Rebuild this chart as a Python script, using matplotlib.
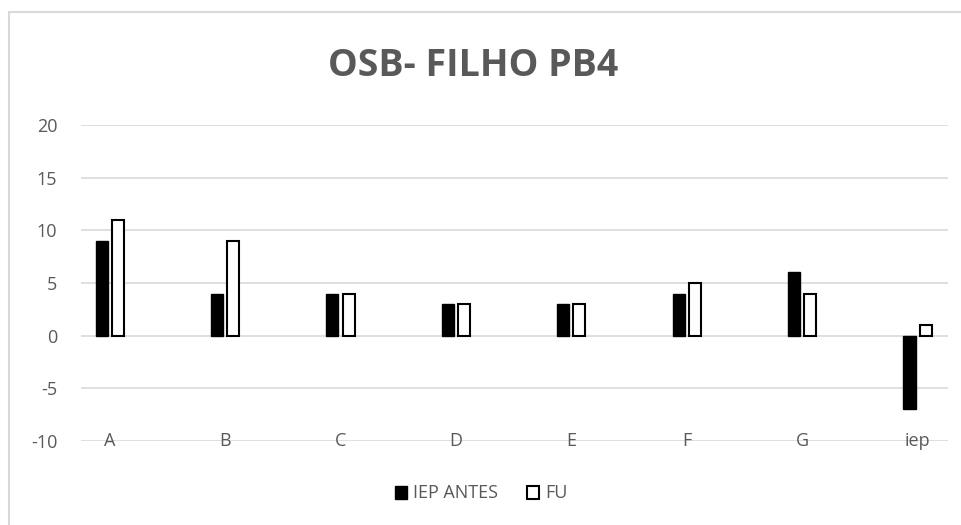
import matplotlib.pyplot as plt
from matplotlib.patches import Rectangle
import numpy as np

categories = ['A', 'B', 'C', 'D', 'E', 'F', 'G', 'iep']
iep_antes = [9, 4, 4, 3, 3, 4, 6, -7]
fu = [11, 9, 4, 3, 3, 5, 4, 1]

plt.rcParams['font.family'] = ['Open Sans', 'DejaVu Sans']
plt.rcParams['axes.unicode_minus'] = False
grey = '#595959'

fig = plt.figure(figsize=(9.62, 5.25), dpi=100)
ax = fig.add_axes([0.084, 0.16, 0.901, 0.602])

x = np.arange(len(categories))
w = 0.105
ax.bar(x - 0.07, iep_antes, w, color='black', edgecolor='black', linewidth=1, label='IEP ANTES', zorder=3)
ax.bar(x + 0.07, fu, w, color='white', edgecolor='black', linewidth=1.5, label='FU', zorder=3)

ax.set_ylim(-10, 20)
ax.set_yticks(range(-10, 21, 5))
ax.set_xlim(-0.25, 7.26)
ax.yaxis.grid(True, color='#d9d9d9', linewidth=1.2, zorder=0)
ax.set_axisbelow(True)
for s in ax.spines.values():
    s.set_visible(False)
ax.tick_params(axis='y', length=0, labelsize=13, labelcolor=grey, pad=17)
ax.set_xticks([])
for xi, c in zip(x, categories):
    ax.text(xi, -10, c, ha='center', va='center', fontsize=13, color=grey, zorder=1)

fig.text(0.492, 0.875, 'OSB- FILHO PB4', ha='center', va='center', fontsize=27,
         fontweight='bold', color=grey)

fig.legend(loc='center', bbox_to_anchor=(0.5, 0.06), ncol=2, frameon=False,
           fontsize=13, labelcolor=grey, handlelength=0.7, handleheight=0.7,
           handletextpad=0.3, columnspacing=1.6)

fig.patches.append(Rectangle((9 / 962, -0.1), 1.2, 1.1 - 12 / 525,
                             transform=fig.transFigure, fill=False,
                             edgecolor='#d9d9d9', linewidth=1.5))

fig.savefig('out.png', dpi=100)
